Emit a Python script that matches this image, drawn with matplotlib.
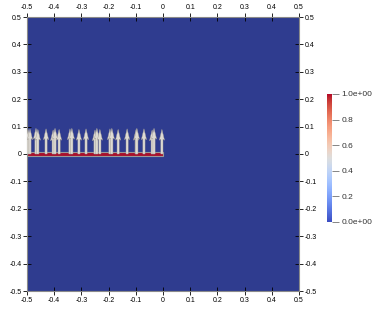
import matplotlib
matplotlib.use("Agg")
import matplotlib.pyplot as plt
import numpy as np
from matplotlib.patches import Rectangle
from matplotlib.cm import ScalarMappable
from matplotlib.colors import Normalize

plt.rcParams['font.family'] = ['Liberation Sans', 'DejaVu Sans']

# axis ticks
tick_vals = [-0.5, -0.4, -0.3, -0.2, -0.1, 0, 0.1, 0.2, 0.3, 0.4, 0.5]
tick_labels = ["-0.5", "-0.4", "-0.3", "-0.2", "-0.1", "0", "0.1", "0.2", "0.3", "0.4", "0.5"]

# vector glyphs along the strip (x position, vertical length)
arrow_x = [-0.496, -0.489, -0.467, -0.460, -0.430, -0.404, -0.397, -0.382,
           -0.342, -0.335, -0.309, -0.283, -0.250, -0.243, -0.232, -0.195,
           -0.188, -0.165, -0.132, -0.099, -0.096, -0.070, -0.040, -0.033, -0.004]
arrow_len = [0.090, 0.092, 0.094, 0.090, 0.092, 0.088, 0.094, 0.090,
             0.092, 0.094, 0.090, 0.092, 0.088, 0.094, 0.090, 0.092,
             0.094, 0.090, 0.092, 0.090, 0.094, 0.092, 0.088, 0.094, 0.090]

# the strip where the field is 1
strip_x = [-0.5, 0.0]
strip_y = [-0.007, 0.009]

# colorbar
cbar_ticks = [0.0, 0.2, 0.4, 0.6, 0.8, 1.0]
cbar_labels = ["0.0e+00", "0.2", "0.4", "0.6", "0.8", "1.0e+00"]

fig = plt.figure(figsize=(3.74, 3.09), dpi=100)
ax = fig.add_axes([27/374, 18/309, 272/374, 274/309])
ax.set_facecolor('#2f3c8f')
ax.set_xlim(-0.5, 0.5)
ax.set_ylim(-0.5, 0.5)

ax.add_patch(Rectangle((strip_x[0], strip_y[0]), strip_x[1] - strip_x[0],
                       strip_y[1] - strip_y[0], facecolor='#a8102c',
                       edgecolor='#9a9a9a', linewidth=0.8, zorder=2))

ax.quiver(arrow_x, np.zeros(len(arrow_x)), np.zeros(len(arrow_x)), arrow_len,
          angles='xy', scale_units='xy', scale=1, color='#dedbd4',
          edgecolor='#a29d95', linewidth=0.3, width=0.008,
          headwidth=2.4, headlength=5, headaxislength=4.5, zorder=3)

ax.set_xticks(tick_vals)
ax.set_xticklabels(tick_labels)
ax.set_yticks(tick_vals)
ax.set_yticklabels(tick_labels)
ax.tick_params(top=True, right=True, labeltop=True, labelright=True,
               direction='inout', length=6, width=0.6, labelsize=5, pad=1,
               colors='black')
for s in ax.spines.values():
    s.set_color('#8a8a8a')
    s.set_linewidth(0.8)

cax = fig.add_axes([327/374, (309-222)/309, 5/374, 128/309])
sm = ScalarMappable(norm=Normalize(0, 1), cmap='coolwarm')
cb = fig.colorbar(sm, cax=cax)
cb.set_ticks(cbar_ticks)
cb.set_ticklabels(cbar_labels)
cb.outline.set_visible(False)
cax.tick_params(direction='out', length=5, width=0.5, colors='#555555',
                labelsize=6, pad=2, labelcolor='#333333')

fig.savefig("out.png", dpi=100)
